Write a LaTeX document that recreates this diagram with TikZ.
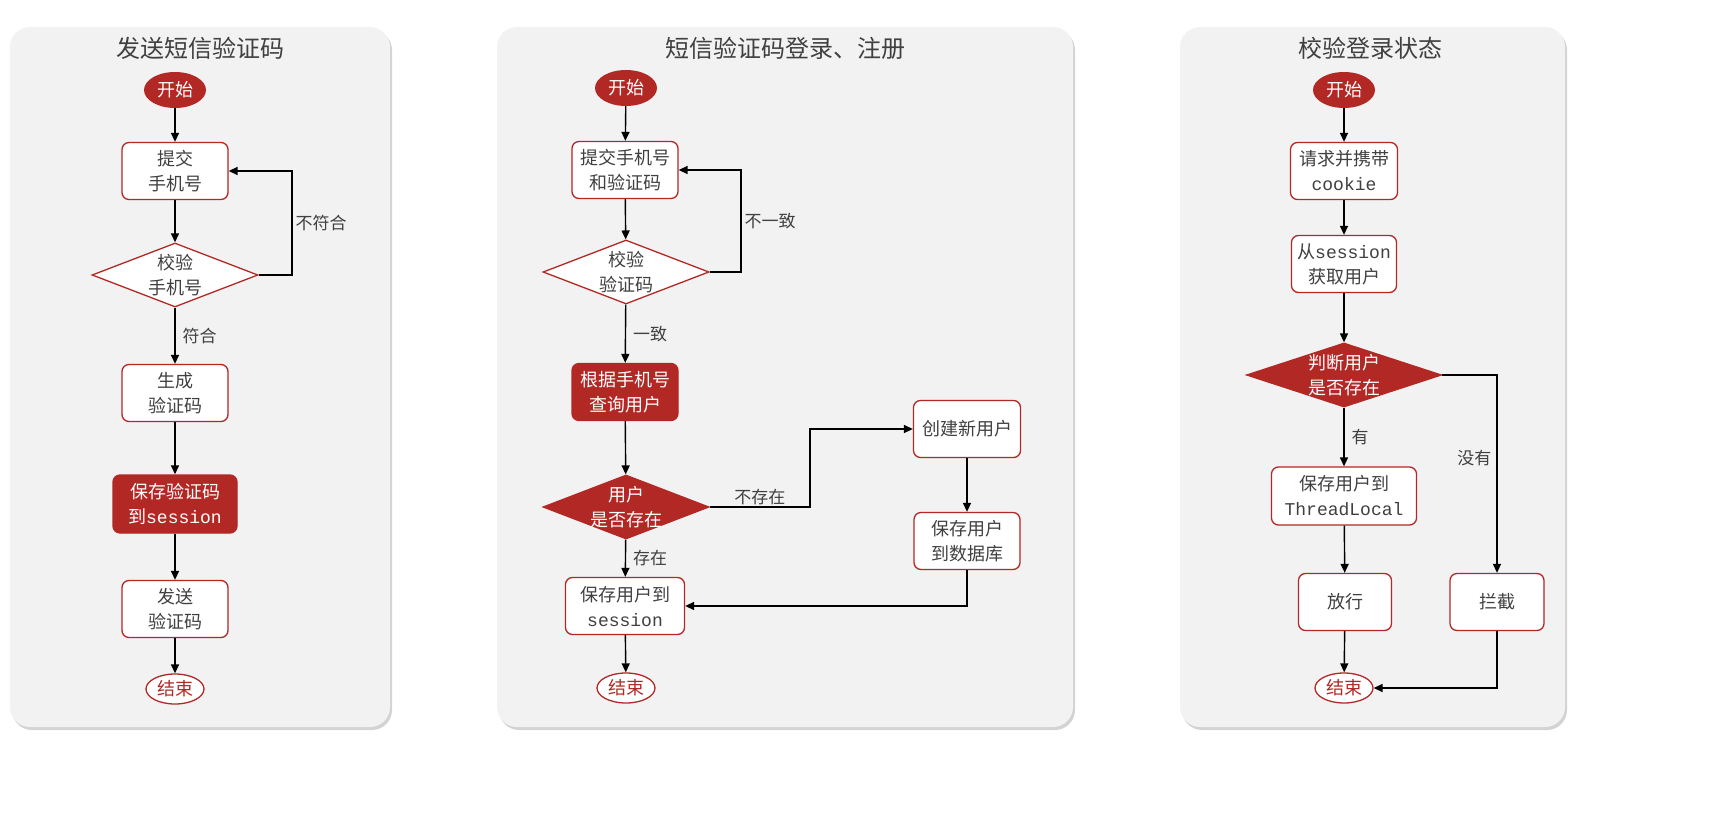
\documentclass[tikz,border=0pt]{standalone}
\usepackage{fontspec}
\setmainfont{Noto Sans CJK SC}
\setmonofont{Liberation Mono}
\usetikzlibrary{shapes.geometric,arrows.meta,shadows}
\definecolor{rd}{RGB}{178,40,37}
\definecolor{txt}{RGB}{64,64,64}
\definecolor{panel}{RGB}{242,242,242}
\tikzset{
  panel/.style={fill=panel,rounded corners=20pt,drop shadow={opacity=0.35,shadow xshift=2pt,shadow yshift=-3pt}},
  title/.style={text=txt,font=\fontsize{24}{28}\selectfont},
  base/.style={align=center,inner sep=1pt,font=\fontsize{18}{25}\selectfont,text=txt},
  start/.style={base,ellipse,fill=rd,text=white,minimum width=62pt,minimum height=36pt},
  stop/.style={base,ellipse,draw=rd,line width=1.3pt,fill=white,text=rd,minimum width=58pt,minimum height=30pt},
  proc/.style={base,draw=rd,line width=1.3pt,fill=white,rounded corners=7pt,minimum width=106pt,minimum height=57pt},
  procf/.style={proc,fill=rd,text=white},
  dec/.style={diamond,inner sep=0pt,draw=rd,line width=1.3pt,fill=white,minimum width=166pt,minimum height=64pt,
    label={[base]center:#1}},
  decf/.style={diamond,inner sep=0pt,draw=rd,line width=1.3pt,fill=rd,minimum width=166pt,minimum height=64pt,
    label={[base,text=white]center:#1}},
  lbl/.style={base,font=\fontsize{17}{20}\selectfont},
  arr/.style={-{Triangle[length=9pt,width=8pt]},line width=1.4pt}
}
\begin{document}
\begin{tikzpicture}[x=1pt,y=-1pt]
\useasboundingbox (0,0) rectangle (1729,824);
% panels
\path[panel] (10,27) rectangle (390,727);
\path[panel] (497,27) rectangle (1073,727);
\path[panel] (1180,27) rectangle (1565,727);
\node[title] (t1) at (200,48) {发送短信验证码};
\node[title] (t2) at (785,48) {短信验证码登录、注册};
\node[title] (t3) at (1370,48) {校验登录状态};

% panel 1
\node[start] (a0) at (175,90) {开始};
\node[proc] (a1) at (175,171) {提交\\手机号};
\node[dec={校验\\手机号}] (a2) at (175,275) {};
\node[proc] (a3) at (175,393) {生成\\验证码};
\node[procf,minimum width=124pt,minimum height=58pt] (a4) at (175,504) {保存验证码\\到\texttt{session}};
\node[proc] (a5) at (175,609) {发送\\验证码};
\node[stop] (a6) at (175,689) {结束};
\coordinate (a7) at (292,275);
\draw[arr] (a0) -- (a1);
\draw[arr] (a1) -- (a2);
\draw[arr] (a2) -- node[lbl,right=6pt] {符合} (a3);
\draw[arr] (a3) -- (a4);
\draw[arr] (a4) -- (a5);
\draw[arr] (a5) -- (a6);
\draw[arr] (a2.east) -- (a7) |- node[lbl,pos=0.25,right=2pt] {不符合} (a1.east);

% panel 2
\node[start] (b0) at (626,88) {开始};
\node[proc] (b1) at (625,170) {提交手机号\\和验证码};
\node[dec={校验\\验证码}] (b2) at (626,272) {};
\node[procf] (b3) at (625,392) {根据手机号\\查询用户};
\node[decf={用户\\是否存在}] (b4) at (626,507) {};
\node[proc,minimum width=119pt] (b5) at (625,606) {保存用户到\\\texttt{session}};
\node[stop] (b6) at (626,688) {结束};
\node[proc,minimum width=107pt] (b7) at (967,429) {创建新用户};
\node[proc] (b8) at (967,541) {保存用户\\到数据库};
\coordinate (b9) at (741,272);
\coordinate (b10) at (810,507);
\draw[arr] (b0) -- (b1);
\draw[arr] (b1) -- (b2);
\draw[arr] (b2) -- node[lbl,right=6pt] {一致} (b3);
\draw[arr] (b3) -- (b4);
\draw[arr] (b4) -- node[lbl,right=6pt] {存在} (b5);
\draw[arr] (b5) -- (b6);
\draw[arr] (b2.east) -- (b9) |- node[lbl,pos=0.25,right=2pt] {不一致} (b1.east);
\draw[arr] (b4.east) -- node[lbl,above=0pt] {不存在} (b10) |- (b7.west);
\draw[arr] (b7) -- (b8);
\draw[arr] (b8.south) |- (b5.east);

% panel 3
\node[start] (c0) at (1344,90) {开始};
\node[proc,minimum width=107pt] (c1) at (1344,171) {请求并携带\\\texttt{cookie}};
\node[proc,minimum width=105pt] (c2) at (1344,264) {从\texttt{session}\\获取用户};
\node[decf={判断用户\\是否存在},minimum width=195pt] (c3) at (1344,375) {};
\node[proc,minimum width=145pt,minimum height=58pt] (c4) at (1344,496) {保存用户到\\\texttt{ThreadLocal}};
\node[proc,minimum width=93pt] (c5) at (1345,602) {放行};
\node[proc,minimum width=94pt] (c6) at (1497,602) {拦截};
\node[stop] (c7) at (1344,688) {结束};
\coordinate (c8) at (1497,375);
\draw[arr] (c0) -- (c1);
\draw[arr] (c1) -- (c2);
\draw[arr] (c2) -- (c3);
\draw[arr] (c3) -- node[lbl,right=6pt] {有} (c4);
\draw[arr] (c4) -- (c5);
\draw[arr] (c5) -- (c7);
\draw[arr] (c3.east) -- (c8) -- node[lbl,pos=0.42,left=4pt] {没有} (c6.north);
\draw[arr] (c6.south) |- (c7.east);
\end{tikzpicture}
\end{document}
